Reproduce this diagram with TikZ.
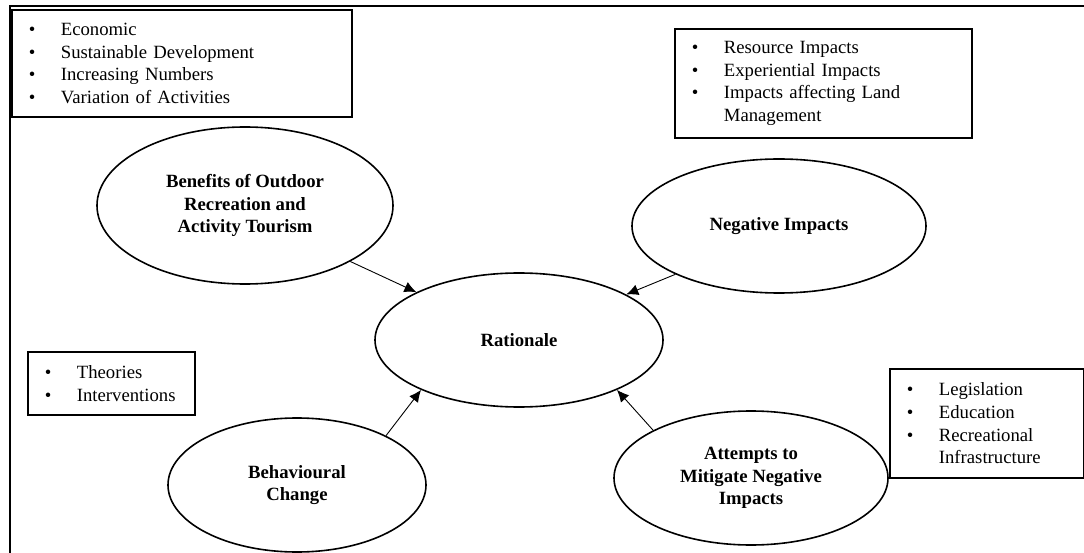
\documentclass[tikz,border=0pt]{standalone}
\usepackage{fontspec}
\setmainfont{Liberation Serif}
\usetikzlibrary{arrows.meta, shapes.geometric}
\newcommand{\bitem}{\makebox[32pt][l]{\textbullet}}
\newcommand{\bgap}{\hspace*{32pt}}

\begin{document}
\begin{tikzpicture}[x=1pt, y=-1pt, >={Latex[length=12pt,width=11pt]},
  font=\fontsize{18.7}{22.7}\selectfont,
  bubble/.style={draw, ellipse, line width=1.6pt, inner sep=0pt, align=center,
    font=\fontsize{18.7}{22.7}\selectfont\bfseries},
  listbox/.style={draw, line width=1.8pt, inner xsep=17pt, inner ysep=0pt, align=left, anchor=west},
  link/.style={->, line width=0.9pt}]

\useasboundingbox (0,0) rectangle (1084,553);

% =================================================================================
% frame (cut off at right and bottom)
% =================================================================================
\draw[line width=1.8pt] (1084,6) -- (10,6) -- (10,553);

% =================================================================================
% the five ellipses
% =================================================================================
\node[bubble, minimum width=296pt, minimum height=157pt] (ben) at (245,205.5)
  {Benefits of Outdoor\\Recreation and\\Activity Tourism};
\node[bubble, minimum width=294pt, minimum height=134pt] (neg) at (779,226) {Negative Impacts};
\node[bubble, minimum width=288pt, minimum height=134pt] (rat) at (519,340) {Rationale};
\node[bubble, minimum width=258pt, minimum height=134pt] (beh) at (297,485) {Behavioural\\Change};
\node[bubble, minimum width=274pt, minimum height=134pt] (mit) at (751,478)
  {Attempts to\\Mitigate Negative\\Impacts};

% =================================================================================
% the lists
% =================================================================================
\node[listbox, minimum width=340pt, minimum height=107pt, text width=306pt] (benlist) at (11,63.5)
  {\bitem Economic\\ \bitem Sustainable Development\\ \bitem Increasing Numbers\\
   \bitem Variation of Activities};
\node[listbox, minimum width=297pt, minimum height=109pt, text width=263pt] (neglist) at (674,83.5)
  {\bitem Resource Impacts\\ \bitem Experiential Impacts\\ \bitem Impacts affecting Land\\
   \bgap Management};
\node[listbox, minimum width=167pt, minimum height=63pt, text width=133pt] (behlist) at (27,383.5)
  {\bitem Theories\\ \bitem Interventions};
\node[listbox, minimum width=194pt, minimum height=109pt, text width=160pt] (mitlist) at (889,423.5)
  {\bitem Legislation\\ \bitem Education\\ \bitem Recreational\\ \bgap Infrastructure};

% =================================================================================
% arrows into the rationale
% =================================================================================
\draw[link] (ben.332) -- (rat.155);
\draw[link] (neg.205) -- (rat.23);
\draw[link] (beh.29)  -- (rat.207);
\draw[link] (mit.154) -- (rat.333);

\end{tikzpicture}
\end{document}
